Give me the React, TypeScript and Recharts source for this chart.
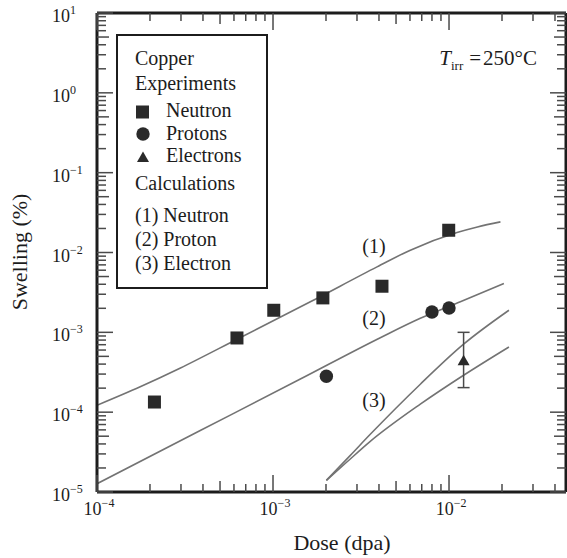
import React from "react";
import { ComposedChart, Line, Scatter, XAxis, YAxis, ErrorBar } from "recharts";

const W = 567;
const H = 558;
const FONT = '"Liberation Serif", "Times New Roman", serif';
const INK = "#1c1c1c";
const TICK = "#4a4a4a";
const CURVE = "#737373";
const MARK = "#2a2a2a";

// Copper experiments
const neutronDose = [2.12e-4, 6.24e-4, 1.01e-3, 1.92e-3, 4.16e-3, 9.96e-3];
const neutronSwell = [1.34e-4, 8.5e-4, 1.89e-3, 2.7e-3, 3.78e-3, 1.9e-2];
const protonDose = [2.01e-3, 8.0e-3, 1.0e-2];
const protonSwell = [2.82e-4, 1.8e-3, 2.02e-3];
const electronDose = [1.21e-2];
const electronSwell = [4.48e-4];
const electronLow = [2.03e-4];
const electronHigh = [1.0e-3];

// Calculations (1) neutron, (2) proton, (3) electron (two lines)
const calc1Dose = [1e-4, 1.76e-4, 2.96e-4, 6.25e-4, 1.63e-3, 3.9e-3, 6.03e-3, 1.11e-2, 1.45e-2, 1.96e-2];
const calc1Swell = [1.22e-4, 2.08e-4, 3.55e-4, 8.2e-4, 2.41e-3, 6.6e-3, 1.07e-2, 1.78e-2, 2.09e-2, 2.42e-2];
const calc2Dose = [1e-4, 3.86e-4, 1.43e-3, 4.07e-3, 6.87e-3, 1.16e-2, 2.05e-2];
const calc2Swell = [1.27e-5, 5.88e-5, 2.6e-4, 8.57e-4, 1.5e-3, 2.42e-3, 4.09e-3];
const calc3aDose = [2.01e-3, 2.75e-3, 3.57e-3, 6.87e-3, 1.21e-2, 2.19e-2];
const calc3aSwell = [1.4e-5, 2.88e-5, 5.28e-5, 2.24e-4, 7.1e-4, 1.89e-3];
const calc3bDose = [2.01e-3, 2.58e-3, 3.57e-3, 6.87e-3, 1.21e-2, 2.19e-2];
const calc3bSwell = [1.4e-5, 2.29e-5, 4.31e-5, 1.26e-4, 2.9e-4, 6.56e-4];

// axes
const xDomain = [1e-4, 4.62e-2];
const yDomain = [1e-5, 10];
const xDecades = [-4, -3, -2];
const yDecades = [-5, -4, -3, -2, -1, 0];
const mantissas = [1, 2, 3, 4, 5, 6, 7, 8, 9];

const xTicks = xDecades
  .flatMap((e) => mantissas.map((m) => m * Math.pow(10, e)))
  .filter((v) => v <= xDomain[1]);
const yTicks = [...yDecades.flatMap((e) => mantissas.map((m) => m * Math.pow(10, e))), 10];

const toPoints = (dose: number[], swell: number[]) =>
  dose.map((d, i) => ({ d, v: swell[i] }));

const neutronData = toPoints(neutronDose, neutronSwell);
const protonData = toPoints(protonDose, protonSwell);
const electronData = electronDose.map((d, i) => ({
  d,
  v: electronSwell[i],
  err: [electronSwell[i] - electronLow[i], electronHigh[i] - electronSwell[i]],
}));
const calc1 = toPoints(calc1Dose, calc1Swell);
const calc2 = toPoints(calc2Dose, calc2Swell);
const calc3a = toPoints(calc3aDose, calc3aSwell);
const calc3b = toPoints(calc3bDose, calc3bSwell);

const mant = (v: number) =>
  Math.round(v / Math.pow(10, Math.floor(Math.log10(v) + 1e-9)));
const expOf = (v: number) => Math.round(Math.log10(v));
const supText = (e: number) => (e < 0 ? "\u2212" + Math.abs(e) : String(e));
const xLen = (v: number) => (mant(v) === 1 ? 17 : mant(v) === 5 ? 11 : 8);
const yLen = (v: number) => (mant(v) === 1 ? 16 : mant(v) === 5 ? 12 : 9);

const txt = { fontFamily: FONT };

const BottomTick = (props: any) => {
  const { x, y, payload } = props;
  const v = payload.value;
  return (
    <g>
      <line x1={x} y1={y} x2={x} y2={y - xLen(v)} stroke={TICK} strokeWidth={1.5} />
      {mant(v) === 1 && (
        <text x={x + 2} y={y + 23} textAnchor="middle" style={txt} fontSize={18} fill={INK}>
          10
          <tspan dy={-8} fontSize={12}>
            {supText(expOf(v))}
          </tspan>
        </text>
      )}
    </g>
  );
};

const TopTick = (props: any) => {
  const { x, y, payload } = props;
  return <line x1={x} y1={y} x2={x} y2={y + xLen(payload.value)} stroke={TICK} strokeWidth={1.5} />;
};

const LeftTick = (props: any) => {
  const { x, y, payload } = props;
  const v = payload.value;
  return (
    <g>
      <line x1={x} y1={y} x2={x + yLen(v)} y2={y} stroke={TICK} strokeWidth={1.5} />
      {mant(v) === 1 && (
        <text x={52} y={y + 9} textAnchor="start" style={txt} fontSize={18} fill={INK}>
          10
          <tspan dy={-8} fontSize={12}>
            {supText(expOf(v))}
          </tspan>
        </text>
      )}
    </g>
  );
};

const RightTick = (props: any) => {
  const { x, y, payload } = props;
  return <line x1={x} y1={y} x2={x - yLen(payload.value)} y2={y} stroke={TICK} strokeWidth={1.5} />;
};

const squareShape = (p: any) => (
  <rect x={p.cx - 6.5} y={p.cy - 6.5} width={13} height={13} fill={MARK} />
);
const circleShape = (p: any) => <circle cx={p.cx} cy={p.cy} r={6.7} fill={MARK} />;
const triangleShape = (p: any) => (
  <polygon
    points={`${p.cx},${p.cy - 5.5} ${p.cx + 6},${p.cy + 5} ${p.cx - 6},${p.cy + 5}`}
    fill={MARK}
  />
);

const frame = { stroke: INK, strokeWidth: 3 };

const legendRows = [
  { label: "Copper", y: 65, x: 135 },
  { label: "Experiments", y: 90, x: 135 },
  { label: "Neutron", y: 117, x: 166 },
  { label: "Protons", y: 140, x: 166 },
  { label: "Electrons", y: 162, x: 166 },
  { label: "Calculations", y: 190, x: 135 },
  { label: "(1) Neutron", y: 222, x: 135 },
  { label: "(2) Proton", y: 246, x: 135 },
  { label: "(3) Electron", y: 270, x: 135 },
];

const Overlay = () => (
  <svg
    width={W}
    height={H}
    style={{ position: "absolute", left: 0, top: 0, pointerEvents: "none", fontFamily: FONT }}
  >
    {/* legend box */}
    <rect x={117} y={35} width={150} height={253} fill="none" stroke={INK} strokeWidth={2} />
    {legendRows.map((r) => (
      <text key={r.label} x={r.x} y={r.y} style={txt} fontSize={20} fill={INK}>
        {r.label}
      </text>
    ))}
    <rect x={136} y={105.5} width={13} height={13} fill={MARK} />
    <circle cx={143} cy={134} r={6.7} fill={MARK} />
    <polygon points="143,151.5 149,162 137,162" fill={MARK} />

    {/* curve labels */}
    <text x={374} y={253} textAnchor="middle" style={txt} fontSize={20} fill={INK}>(1)</text>
    <text x={374} y={325} textAnchor="middle" style={txt} fontSize={20} fill={INK}>(2)</text>
    <text x={374} y={407} textAnchor="middle" style={txt} fontSize={20} fill={INK}>(3)</text>

    {/* irradiation temperature */}
    <text x={537} y={65} textAnchor="end" style={txt} fontSize={21} fill={INK}>
      <tspan fontStyle="italic">T</tspan>
      <tspan fontSize={13} dy={5}>irr</tspan>
      <tspan dy={-5} dx={6}>=</tspan>
      <tspan dx={2}>250°C</tspan>
    </text>

    {/* axis titles */}
    <text x={342} y={550} textAnchor="middle" style={txt} fontSize={22} fill={INK}>
      Dose (dpa)
    </text>
    <text x={27} y={252} textAnchor="middle" style={txt} fontSize={22} fill={INK} transform="rotate(-90 27 252)">
      Swelling (%)
    </text>
  </svg>
);

export default function App() {
  return (
    <div style={{ position: "absolute", left: 0, top: 0, width: W, height: H, background: "#fff" }}>
      <ComposedChart width={W} height={H} margin={{ top: 12, right: 0, bottom: 0, left: 0 }}>
        <XAxis
          dataKey="d"
          type="number"
          scale="log"
          domain={xDomain}
          allowDataOverflow
          ticks={xTicks}
          interval={0}
          height={66}
          tickSize={0}
          tickMargin={0}
          tickLine={false}
          axisLine={frame}
          tick={<BottomTick />}
        />
        <XAxis
          xAxisId="top"
          orientation="top"
          dataKey="d"
          type="number"
          scale="log"
          domain={xDomain}
          allowDataOverflow
          ticks={xTicks}
          interval={0}
          height={1}
          tickSize={0}
          tickMargin={0}
          tickLine={false}
          axisLine={frame}
          tick={<TopTick />}
        />
        <YAxis
          type="number"
          scale="log"
          domain={yDomain}
          allowDataOverflow
          ticks={yTicks}
          interval={0}
          width={97}
          tickSize={0}
          tickMargin={0}
          tickLine={false}
          axisLine={frame}
          tick={<LeftTick />}
        />
        <YAxis
          yAxisId="right"
          orientation="right"
          type="number"
          scale="log"
          domain={yDomain}
          allowDataOverflow
          ticks={yTicks}
          interval={0}
          width={1}
          tickSize={0}
          tickMargin={0}
          tickLine={false}
          axisLine={frame}
          tick={<RightTick />}
        />

        <Line data={calc1} dataKey="v" type="monotone" stroke={CURVE} strokeWidth={1.6} dot={false} isAnimationActive={false} />
        <Line data={calc2} dataKey="v" type="monotone" stroke={CURVE} strokeWidth={1.6} dot={false} isAnimationActive={false} />
        <Line data={calc3a} dataKey="v" type="monotone" stroke={CURVE} strokeWidth={1.6} dot={false} isAnimationActive={false} />
        <Line data={calc3b} dataKey="v" type="monotone" stroke={CURVE} strokeWidth={1.6} dot={false} isAnimationActive={false} />

        <Scatter data={neutronData} dataKey="v" shape={squareShape} isAnimationActive={false} />
        <Scatter data={protonData} dataKey="v" shape={circleShape} isAnimationActive={false} />
        <Scatter data={electronData} dataKey="v" shape={triangleShape} isAnimationActive={false}>
          <ErrorBar dataKey="err" direction="y" width={6} stroke={TICK} strokeWidth={1.5} isAnimationActive={false} />
        </Scatter>
      </ComposedChart>
      <Overlay />
    </div>
  );
}
